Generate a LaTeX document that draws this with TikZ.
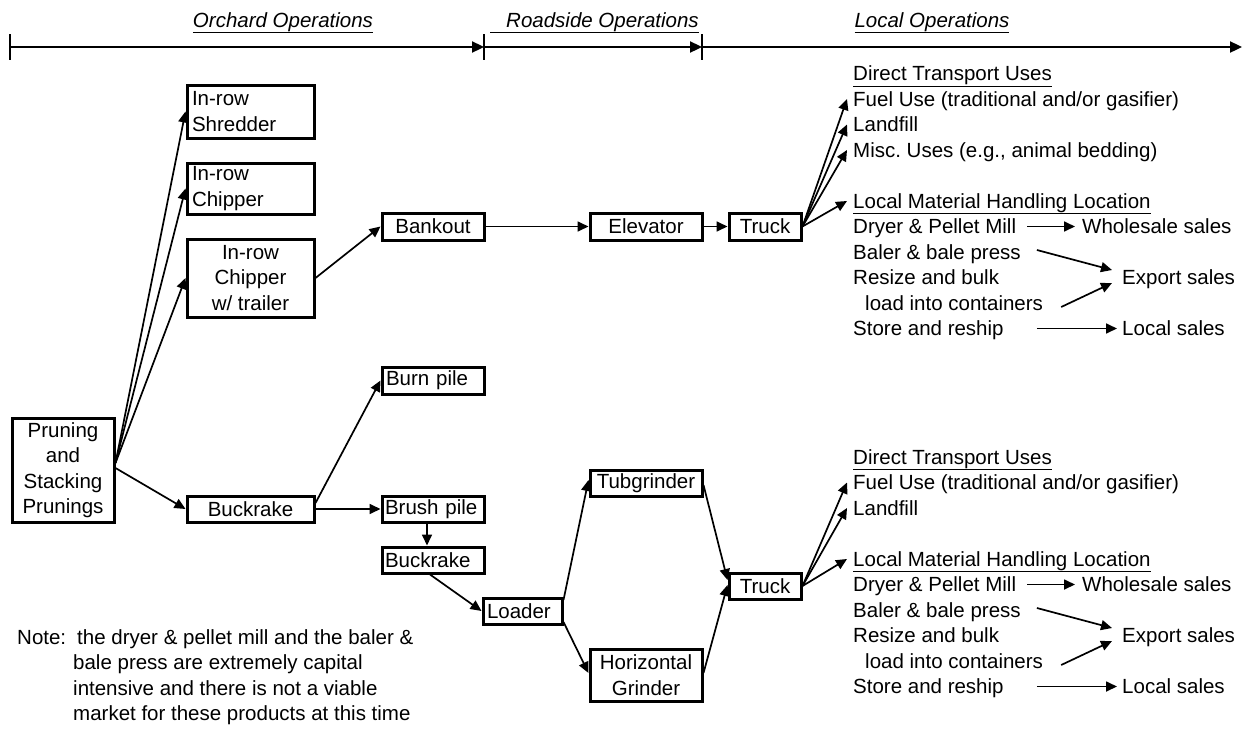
\documentclass[tikz,border=0pt]{standalone}
\usepackage{fontspec}
\setmainfont{Liberation Sans}
\usetikzlibrary{arrows.meta}
\frenchspacing
\newcommand\figfont{\fontsize{20.5}{25.5}\selectfont}
\begin{document}
\begin{tikzpicture}[x=1pt,y=-1pt,
  box/.style={draw, line width=3pt, inner sep=0pt, font=\figfont, align=center},
  lbox/.style={box, align=left},
  arr/.style={line width=1.7pt, -{Triangle[length=11pt,width=10pt]}},
  hdrarr/.style={line width=2.3pt, -{Triangle[length=12pt,width=11pt]}},
  txt/.style={font=\figfont, inner ysep=0pt, inner xsep=6pt, text height=14pt, text depth=0pt, anchor=west},
  hlab/.style={font=\figfont\itshape, inner sep=0pt, anchor=base}
]
\fill[white] (0,0) rectangle (1248,750);
\useasboundingbox (0,0) rectangle (1248,750);

% ---------- header ----------
\coordinate (h0) at (10,47);
\coordinate (h1) at (484,47);
\coordinate (h2) at (702,47);
\coordinate (h3) at (1242,47);
\foreach \h in {h0,h1,h2}{\draw[line width=2.8pt] ([yshift=13pt]\h) -- ([yshift=-13pt]\h);}
\draw[hdrarr] (h0) -- (h1);
\draw[hdrarr] (h1) -- (h2);
\draw[hdrarr] (h2) -- (h3);
\node[hlab] (hl1) at (283,27) {\underline{Orchard Operations}};
\node[hlab, anchor=base west] (hl2) at (490,27) {\underline{\hspace*{16pt}Roadside Operations}};
\node[hlab] (hl3) at (932,27) {\underline{Local Operations}};

% ---------- boxes ----------
\node[lbox, minimum width=127pt, minimum height=53pt, text width=117pt] (shred) at (250.5,111.5) {In-row\\Shredder};
\node[lbox, minimum width=127pt, minimum height=51pt, text width=117pt] (chip) at (250.5,188.5) {In-row\\Chipper};
\node[box, minimum width=127pt, minimum height=78pt] (chipw) at (250.5,278) {In-row\\Chipper\\w/ trailer};
\node[box, minimum width=102pt, minimum height=27pt] (bank) at (433,226.5) {Bankout};
\node[box, minimum width=112pt, minimum height=27pt] (elev) at (646,226.5) {Elevator};
\node[box, minimum width=72pt, minimum height=27pt] (truck1) at (765,226.5) {Truck};
\node[box, minimum width=102pt, minimum height=104pt] (prune) at (63,470) {Pruning\\and\\Stacking\\Prunings};
\node[lbox, minimum width=102pt, minimum height=27pt, text width=94pt] (burn) at (433,380.5) {Burn pile};
\node[box, minimum width=127pt, minimum height=26pt] (buck1) at (250.5,509) {Buckrake};
\node[lbox, minimum width=102pt, minimum height=26pt, text width=96pt] (brush) at (433,509) {Brush pile};
\node[lbox, minimum width=102pt, minimum height=26pt, text width=96pt] (buck2) at (433,560) {Buckrake};
\node[lbox, minimum width=79pt, minimum height=26pt, text width=71pt] (loader) at (522.5,611) {Loader};
\node[box, minimum width=112pt, minimum height=26pt] (tub) at (646,483) {Tubgrinder};
\node[box, minimum width=112pt, minimum height=52pt] (hgr) at (646,675) {Horizontal\\Grinder};
\node[box, minimum width=72pt, minimum height=26pt] (truck2) at (765,586) {Truck};

% ---------- left connectors ----------
\draw[arr] ([yshift=7pt]prune.east) -- (shred.west);
\draw[arr] ([yshift=7pt]prune.east) -- (chip.west);
\draw[arr] ([yshift=7pt]prune.east) -- (chipw.west);
\draw[arr] ([yshift=2pt]prune.east) -- (buck1.west);
\draw[arr] (chipw.east) -- (bank.west);
\draw[arr] (bank.east) -- (elev.west);
\draw[arr] (elev.east) -- (truck1.west);
\draw[arr] ([yshift=6pt]buck1.east) -- (burn.west);
\draw[arr] (buck1.east) -- (brush.west);
\draw[arr] ([xshift=-6pt]brush.south) -- ([xshift=-6pt]buck2.north);
\draw[arr] ([xshift=-3pt]buck2.south) -- (loader.west);
\draw[arr] ([yshift=11pt]loader.east) -- ([yshift=3pt]tub.west);
\draw[arr] ([yshift=-11pt]loader.east) -- ([yshift=2pt]hgr.west);
\draw[arr] ([yshift=-2pt]tub.east) -- ([yshift=6pt]truck2.west);
\draw[arr] ([yshift=2pt]hgr.east) -- ([yshift=1pt]truck2.west);

% ---------- upper right block ----------
\node[txt] (a1) at (847,73.5) {\underline{Direct Transport Uses}};
\node[txt] (a2) at (847,99) {Fuel Use (traditional and/or gasifier)};
\node[txt] (a3) at (847,124.5) {Landfill};
\node[txt] (a4) at (847,150) {Misc. Uses (e.g., animal bedding)};
\node[txt] (a5) at (847,201) {\underline{Local Material Handling Location}};
\node[txt] (a6) at (847,226.5) {Dryer \& Pellet Mill};
\node[txt] (a7) at (847,252) {Baler \& bale press};
\node[txt] (a8) at (847,277.5) {Resize and bulk};
\node[txt, inner xsep=0pt] (a9) at (865,303) {load into containers};
\node[txt] (a10) at (847,328.5) {Store and reship};
\node[txt, inner xsep=7pt] (aw) at (1075,226.5) {Wholesale sales};
\node[txt, inner xsep=7pt] (ae) at (1115,277.5) {Export sales};
\node[txt, inner xsep=5pt] (al) at (1117,328.5) {Local sales};
\draw[arr] (truck1.east) -- (a2.west);
\draw[arr] (truck1.east) -- (a3.west);
\draw[arr] (truck1.east) -- (a4.west);
\draw[arr] (truck1.east) -- (a5.west);
\draw[arr] ([xshift=5pt]a6.east) -- (aw.west);
\draw[arr] ([xshift=10pt,yshift=2pt]a7.east) -- ([xshift=-3pt,yshift=7.5pt]ae.west);
\draw[arr] ([xshift=18pt,yshift=-4pt]a9.east) -- ([xshift=-3pt,yshift=-5.5pt]ae.west);
\draw[arr] ([xshift=27pt]a10.east) -- (al.west);

% ---------- lower right block ----------
\node[txt] (b1) at (847,457) {\underline{Direct Transport Uses}};
\node[txt] (b2) at (847,482.5) {Fuel Use (traditional and/or gasifier)};
\node[txt] (b3) at (847,508) {Landfill};
\node[txt] (b5) at (847,559) {\underline{Local Material Handling Location}};
\node[txt] (b6) at (847,584.5) {Dryer \& Pellet Mill};
\node[txt] (b7) at (847,610) {Baler \& bale press};
\node[txt] (b8) at (847,635.5) {Resize and bulk};
\node[txt, inner xsep=0pt] (b9) at (865,661) {load into containers};
\node[txt] (b10) at (847,686.5) {Store and reship};
\node[txt, inner xsep=7pt] (bw) at (1075,584.5) {Wholesale sales};
\node[txt, inner xsep=7pt] (be) at (1115,635.5) {Export sales};
\node[txt, inner xsep=5pt] (bl) at (1117,686.5) {Local sales};
\draw[arr] (truck2.east) -- (b2.west);
\draw[arr] (truck2.east) -- (b3.west);
\draw[arr] (truck2.east) -- (b5.west);
\draw[arr] ([xshift=5pt]b6.east) -- (bw.west);
\draw[arr] ([xshift=10pt,yshift=2pt]b7.east) -- ([xshift=-3pt,yshift=7.5pt]be.west);
\draw[arr] ([xshift=18pt,yshift=-4pt]b9.east) -- ([xshift=-3pt,yshift=-5.5pt]be.west);
\draw[arr] ([xshift=27pt]b10.east) -- (bl.west);

% ---------- note ----------
\node[txt, inner xsep=0pt] (n1) at (17,637) {Note:\hspace{11pt}the dryer \& pellet mill and the baler \&};
\node[txt, inner xsep=0pt] (n2) at (73,662.5) {bale press are extremely capital};
\node[txt, inner xsep=0pt] (n3) at (73,688) {intensive and there is not a viable};
\node[txt, inner xsep=0pt] (n4) at (73,713) {market for these products at this time};
\end{tikzpicture}
\end{document}
